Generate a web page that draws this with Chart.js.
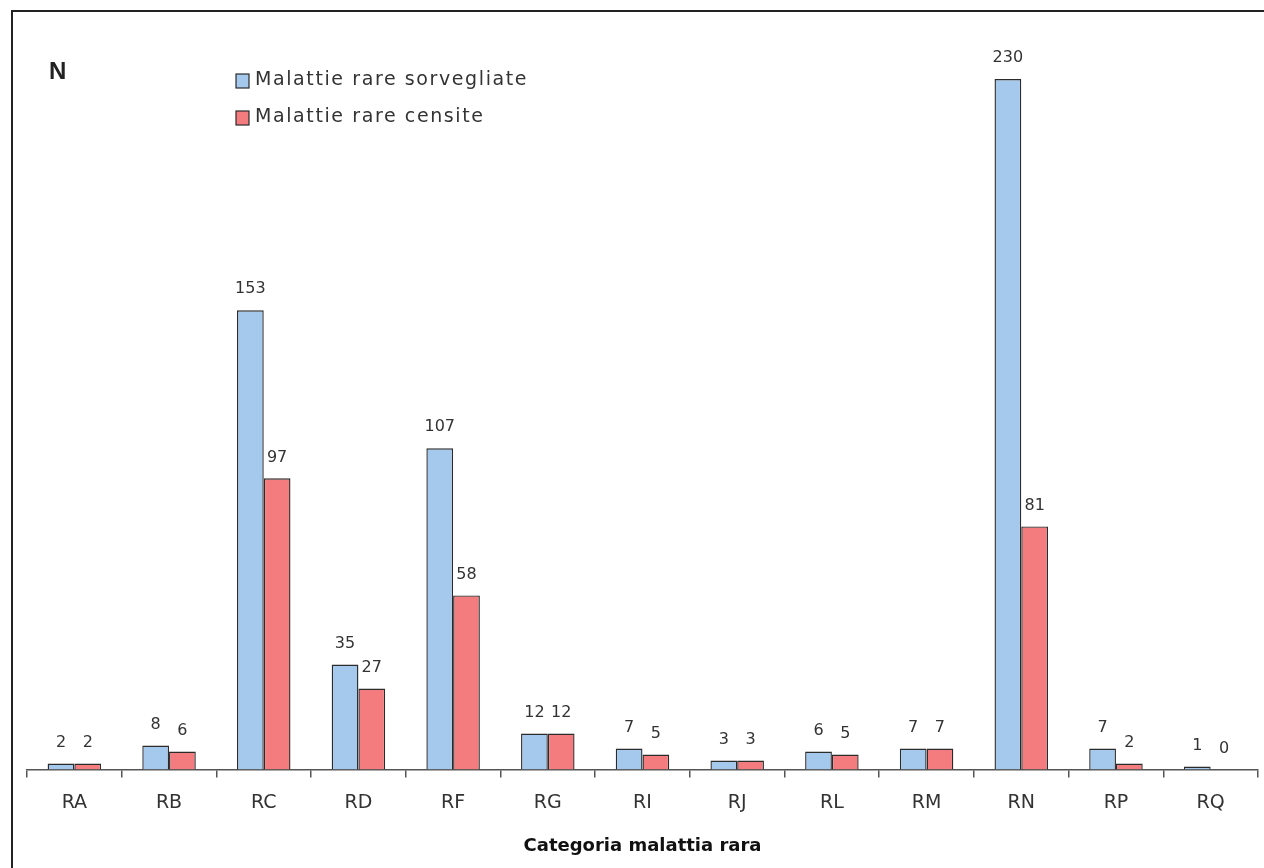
<!DOCTYPE html>
<html>
<head>
<meta charset="utf-8">
<script src="https://cdn.jsdelivr.net/npm/chart.js@4.4.1/dist/chart.umd.min.js"></script>
<style>
    html, body { margin: 0; padding: 0; background: #fff; overflow: hidden; }
    #wrap { position: relative; width: 1264px; height: 868px; }
</style>
</head>
<body>
<div id="wrap"><canvas id="chart" width="1264" height="868"></canvas></div>
<script>
// Categorie e valori
const categories = ['RA', 'RB', 'RC', 'RD', 'RF', 'RG', 'RI', 'RJ', 'RL', 'RM', 'RN', 'RP', 'RQ'];
const sorvegliate = [2, 8, 153, 35, 107, 12, 7, 3, 6, 7, 230, 7, 1];
const censite = [2, 6, 97, 27, 58, 12, 5, 3, 5, 7, 81, 2, 0];
const seriesLabels = ['Malattie rare sorvegliate', 'Malattie rare censite'];

const colors = {
    blue: '#a4c9ec',
    red: '#f47c7f',
    border: '#2b2b2b',
    text: '#333333',
    axis: '#555555',
};

const fontFamily = '"DejaVu Sans", sans-serif';

// Cornice, "N", legenda e valori disegnati direttamente sul canvas
const decorations = {
    id: 'decorations',
    afterDraw(chart) {
        const ctx = chart.ctx;
        ctx.save();

        // cornice (bordo sinistro e superiore)
        ctx.strokeStyle = '#222';
        ctx.lineWidth = 2;
        ctx.beginPath();
        ctx.moveTo(12, 870);
        ctx.lineTo(12, 11);
        ctx.lineTo(1266, 11);
        ctx.stroke();

        // etichetta asse y
        ctx.fillStyle = '#222';
        ctx.font = 'bold 24px "Liberation Sans", Arial, sans-serif';
        ctx.textBaseline = 'middle';
        ctx.textAlign = 'left';
        ctx.fillText('N', 49, 72);

        // legenda
        const rows = [
            { text: chart.data.datasets[0].label, color: colors.blue, y: 80 },
            { text: chart.data.datasets[1].label, color: colors.red, y: 117 },
        ];
        ctx.font = '19px ' + fontFamily;
        ctx.letterSpacing = '1.6px';
        rows.forEach((row) => {
            ctx.fillStyle = row.color;
            ctx.fillRect(236, row.y - 6, 13, 14);
            ctx.strokeStyle = colors.border;
            ctx.lineWidth = 1.2;
            ctx.strokeRect(236, row.y - 6, 13, 14);
            ctx.fillStyle = colors.text;
            ctx.fillText(row.text, 255, row.y);
        });
        ctx.letterSpacing = '0px';

        // valori sopra le barre
        ctx.font = '16px ' + fontFamily;
        ctx.textAlign = 'center';
        ctx.textBaseline = 'middle';
        ctx.fillStyle = colors.text;
        chart.data.datasets.forEach((ds, di) => {
            const meta = chart.getDatasetMeta(di);
            meta.data.forEach((bar, i) => {
                ctx.fillText(String(ds.data[i]), bar.x, bar.y - 21);
            });
        });

        ctx.restore();
    },
};

new Chart(document.getElementById('chart'), {
    type: 'bar',
    data: {
        labels: categories,
        datasets: [
            {
                label: seriesLabels[0],
                data: sorvegliate,
                backgroundColor: colors.blue,
                borderColor: colors.border,
                borderWidth: 1.4,
            },
            {
                label: seriesLabels[1],
                data: censite,
                backgroundColor: colors.red,
                borderColor: colors.border,
                borderWidth: 1.4,
            },
        ],
    },
    options: {
        responsive: false,
        animation: false,
        layout: {
            padding: { top: 19, left: 27, right: 6, bottom: 5 },
        },
        datasets: {
            bar: {
                categoryPercentage: 0.565,
                barPercentage: 1,
            },
        },
        plugins: {
            legend: { display: false },
            tooltip: { enabled: false },
        },
        scales: {
            y: {
                display: false,
                min: 0,
                max: 250,
            },
            x: {
                offset: true,
                grid: {
                    offset: true,
                    drawOnChartArea: false,
                    drawTicks: true,
                    tickLength: 8,
                    color: colors.axis,
                    lineWidth: 1.5,
                },
                border: {
                    display: true,
                    color: colors.axis,
                    width: 1.5,
                },
                ticks: {
                    color: colors.text,
                    padding: 14,
                    font: { family: fontFamily, size: 19 },
                },
                title: {
                    display: true,
                    text: 'Categoria malattia rara',
                    color: '#111',
                    padding: { top: 7, bottom: 6 },
                    font: { family: fontFamily, size: 18, weight: 'bold' },
                },
            },
        },
    },
    plugins: [decorations],
});
</script>
</body>
</html>
